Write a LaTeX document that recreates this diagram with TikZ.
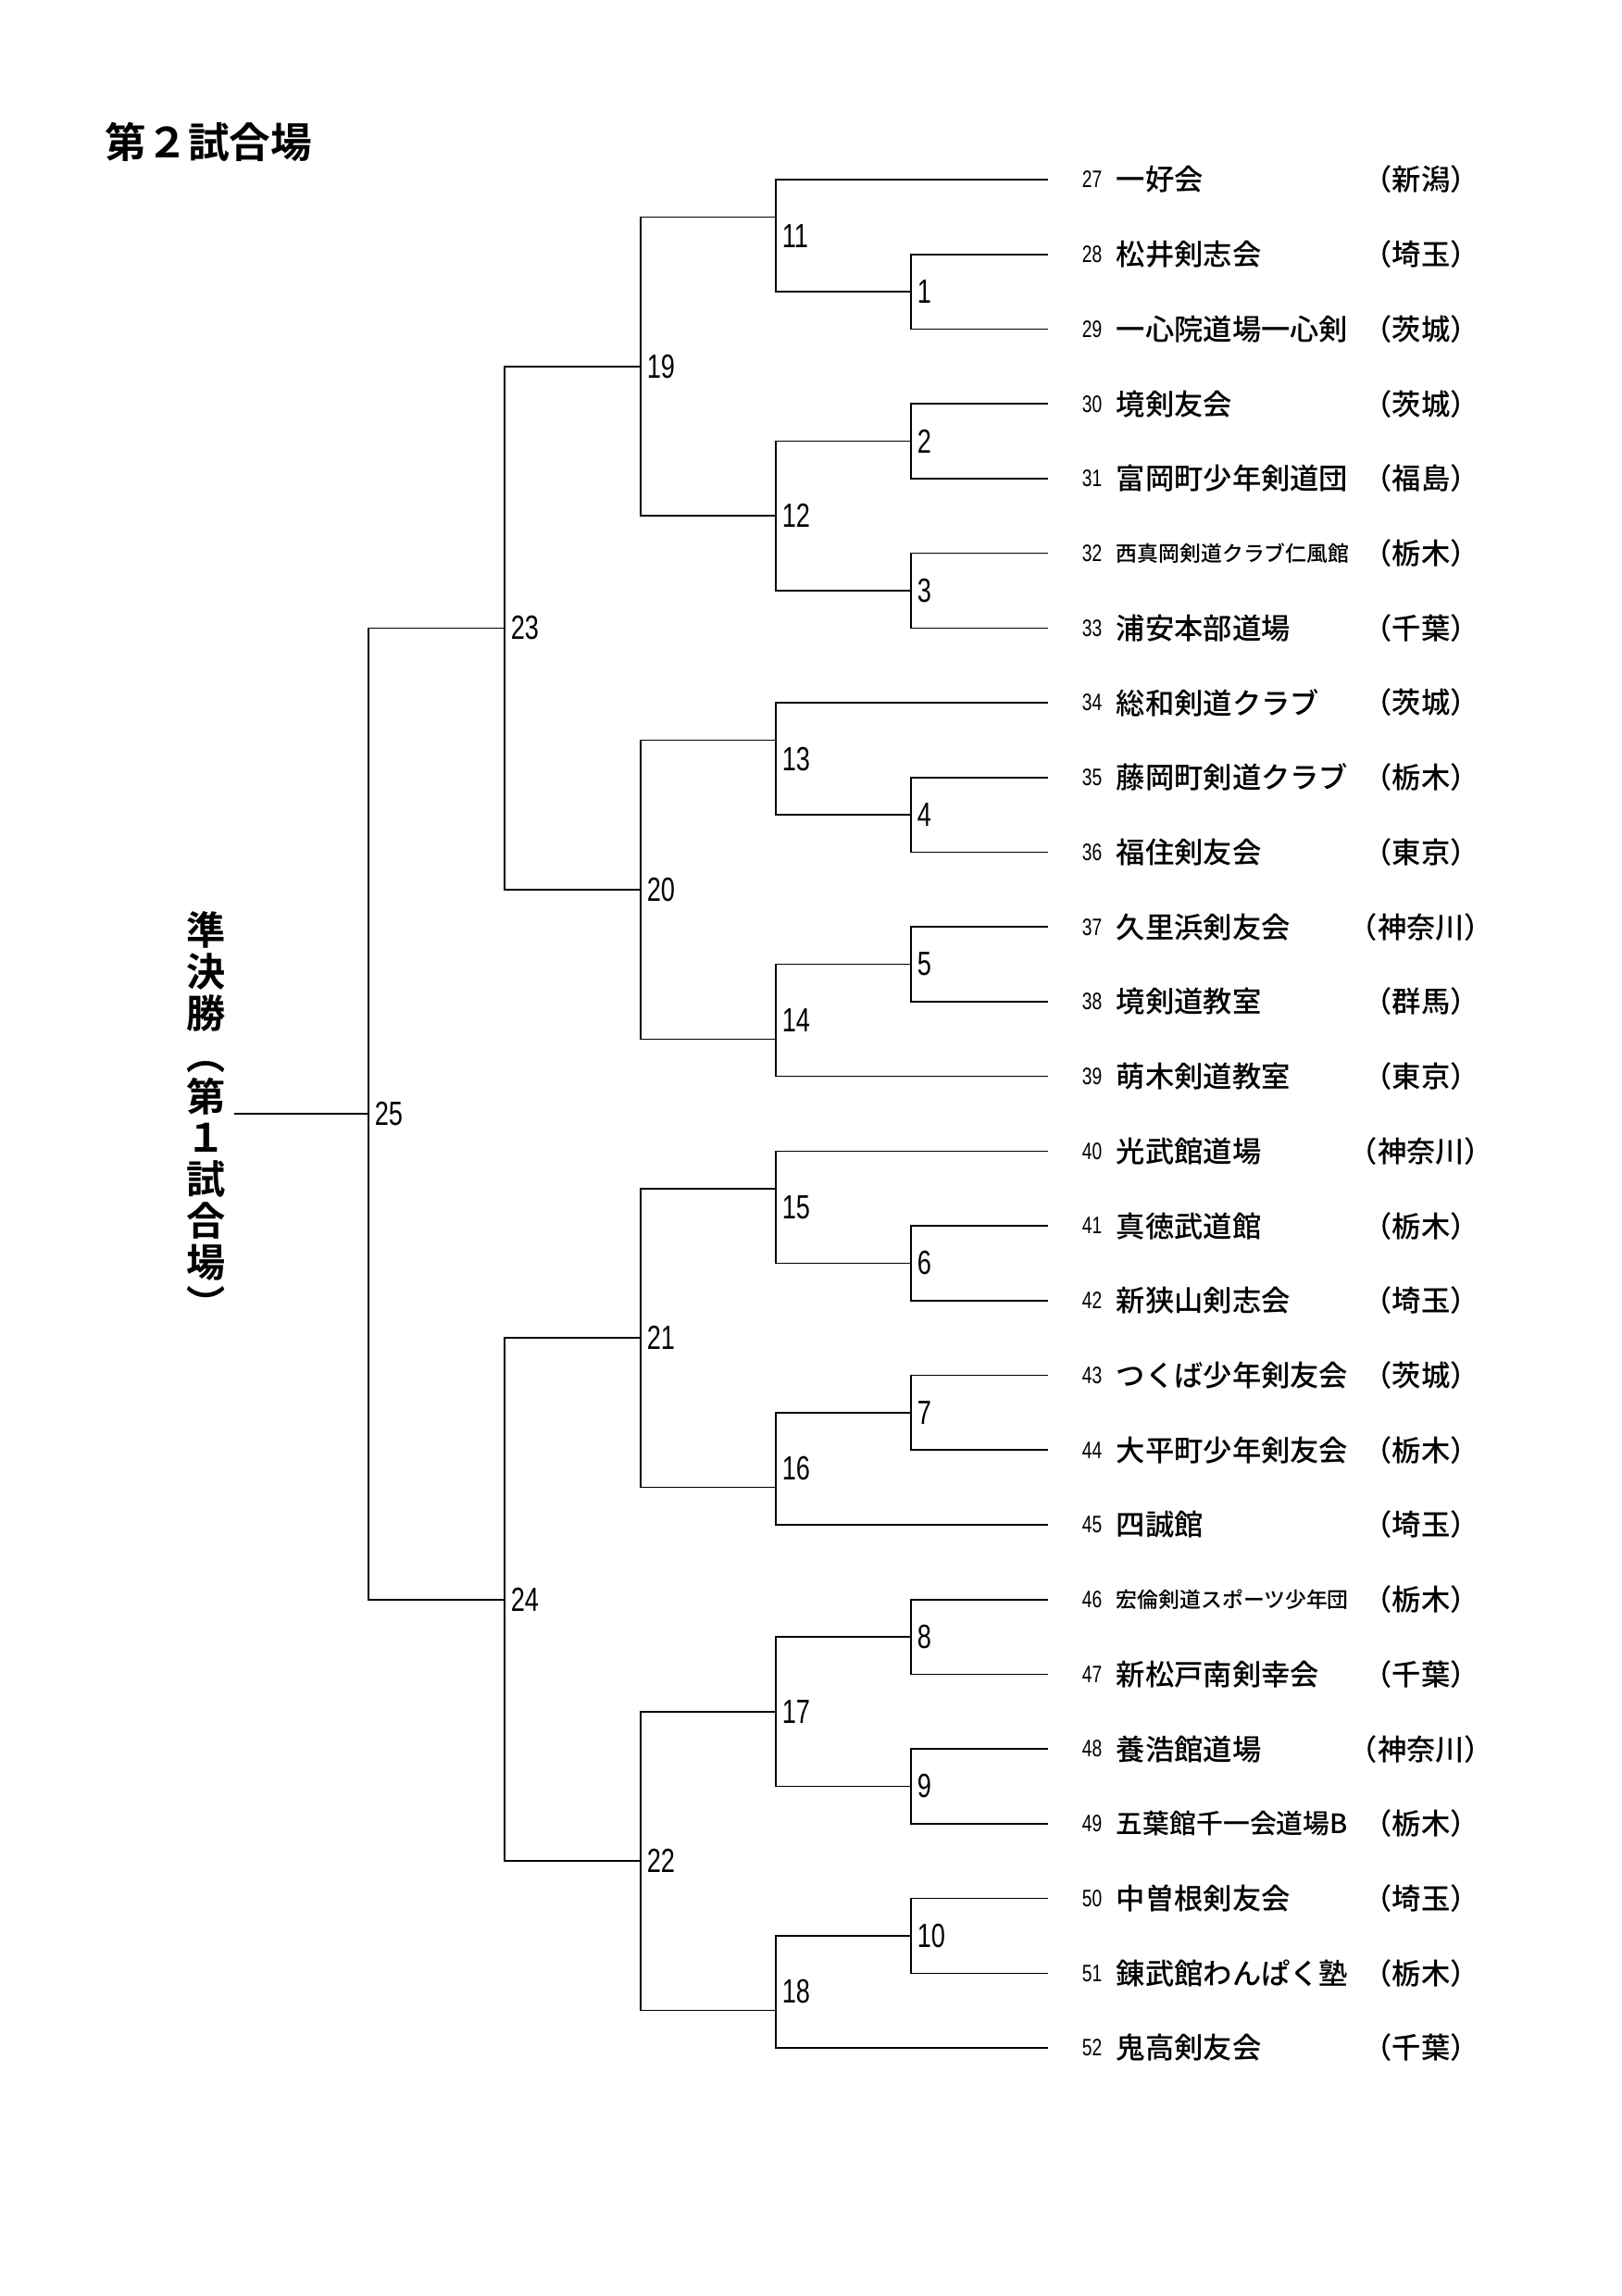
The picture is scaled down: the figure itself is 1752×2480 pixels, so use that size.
\documentclass[tikz,border=0pt]{standalone}
\usepackage{fontspec}
\setmainfont{Noto Sans CJK JP}[UprightFont={* Medium}, BoldFont={* Bold}]
\newfontfamily\numfont{Liberation Sans}[FakeStretch=0.75]
\usetikzlibrary{positioning}

\begin{document}
\begin{tikzpicture}[x=0.01cm, y=-0.01cm, line width=0.45pt]
  \tikzset{
    seed/.style={inner sep=0pt, anchor=west, font=\numfont\fontsize{7.3}{8}\selectfont},
    club/.style={inner sep=0pt, font=\fontsize{8.9}{10}\selectfont},
    tinyclub/.style={club, font=\fontsize{6.5}{7}\selectfont},
    narrowclub/.style={club, font=\fontsize{8.2}{9}\selectfont},
    pref/.style={inner sep=0pt, font=\fontsize{8.9}{10}\selectfont},
    bout/.style={inner sep=0pt, anchor=west, xshift=0.06cm, font=\numfont\fontsize{10.3}{11}\selectfont},
    heading/.style={inner sep=0pt, anchor=west, font=\bfseries\fontsize{12.7}{13}\selectfont},
    sidetitle/.style={inner sep=0pt, align=center, font=\bfseries\fontsize{12}{12.75}\selectfont}
  }
  \useasboundingbox (0,0) rectangle (1752,2480);

  \node[heading] (title) at (113,153) {第２試合場};
  \node[sidetitle] (semi) at (223,1207)
    {準\\決\\勝\\\rotatebox[origin=c]{-90}{（}\\第\\１\\試\\合\\場\\\rotatebox[origin=c]{-90}{）}};

  % teams
  \coordinate (e27) at (1132,194.0); \node[seed] (s27) at (1168,194.0) {27};
  \node[club, right=4pt of s27] (c27) {一好会}; \node[pref] (p27) at (1535,194.0) {（新潟）};
  \coordinate (e28) at (1132,274.7); \node[seed] (s28) at (1168,274.7) {28};
  \node[club, right=4pt of s28] (c28) {松井剣志会}; \node[pref] (p28) at (1535,274.7) {（埼玉）};
  \coordinate (e29) at (1132,355.4); \node[seed] (s29) at (1168,355.4) {29};
  \node[club, right=4pt of s29] (c29) {一心院道場一心剣}; \node[pref] (p29) at (1535,355.4) {（茨城）};
  \coordinate (e30) at (1132,436.2); \node[seed] (s30) at (1168,436.2) {30};
  \node[club, right=4pt of s30] (c30) {境剣友会}; \node[pref] (p30) at (1535,436.2) {（茨城）};
  \coordinate (e31) at (1132,516.9); \node[seed] (s31) at (1168,516.9) {31};
  \node[club, right=4pt of s31] (c31) {富岡町少年剣道団}; \node[pref] (p31) at (1535,516.9) {（福島）};
  \coordinate (e32) at (1132,597.6); \node[seed] (s32) at (1168,597.6) {32};
  \node[tinyclub, right=4pt of s32] (c32) {西真岡剣道クラブ仁風館}; \node[pref] (p32) at (1535,597.6) {（栃木）};
  \coordinate (e33) at (1132,678.3); \node[seed] (s33) at (1168,678.3) {33};
  \node[club, right=4pt of s33] (c33) {浦安本部道場}; \node[pref] (p33) at (1535,678.3) {（千葉）};
  \coordinate (e34) at (1132,759.0); \node[seed] (s34) at (1168,759.0) {34};
  \node[club, right=4pt of s34] (c34) {総和剣道クラブ}; \node[pref] (p34) at (1535,759.0) {（茨城）};
  \coordinate (e35) at (1132,839.8); \node[seed] (s35) at (1168,839.8) {35};
  \node[club, right=4pt of s35] (c35) {藤岡町剣道クラブ}; \node[pref] (p35) at (1535,839.8) {（栃木）};
  \coordinate (e36) at (1132,920.5); \node[seed] (s36) at (1168,920.5) {36};
  \node[club, right=4pt of s36] (c36) {福住剣友会}; \node[pref] (p36) at (1535,920.5) {（東京）};
  \coordinate (e37) at (1132,1001.2); \node[seed] (s37) at (1168,1001.2) {37};
  \node[club, right=4pt of s37] (c37) {久里浜剣友会}; \node[pref] (p37) at (1535,1001.2) {（神奈川）};
  \coordinate (e38) at (1132,1081.9); \node[seed] (s38) at (1168,1081.9) {38};
  \node[club, right=4pt of s38] (c38) {境剣道教室}; \node[pref] (p38) at (1535,1081.9) {（群馬）};
  \coordinate (e39) at (1132,1162.6); \node[seed] (s39) at (1168,1162.6) {39};
  \node[club, right=4pt of s39] (c39) {萌木剣道教室}; \node[pref] (p39) at (1535,1162.6) {（東京）};
  \coordinate (e40) at (1132,1243.4); \node[seed] (s40) at (1168,1243.4) {40};
  \node[club, right=4pt of s40] (c40) {光武館道場}; \node[pref] (p40) at (1535,1243.4) {（神奈川）};
  \coordinate (e41) at (1132,1324.1); \node[seed] (s41) at (1168,1324.1) {41};
  \node[club, right=4pt of s41] (c41) {真徳武道館}; \node[pref] (p41) at (1535,1324.1) {（栃木）};
  \coordinate (e42) at (1132,1404.8); \node[seed] (s42) at (1168,1404.8) {42};
  \node[club, right=4pt of s42] (c42) {新狭山剣志会}; \node[pref] (p42) at (1535,1404.8) {（埼玉）};
  \coordinate (e43) at (1132,1485.5); \node[seed] (s43) at (1168,1485.5) {43};
  \node[club, right=4pt of s43] (c43) {つくば少年剣友会}; \node[pref] (p43) at (1535,1485.5) {（茨城）};
  \coordinate (e44) at (1132,1566.2); \node[seed] (s44) at (1168,1566.2) {44};
  \node[club, right=4pt of s44] (c44) {大平町少年剣友会}; \node[pref] (p44) at (1535,1566.2) {（栃木）};
  \coordinate (e45) at (1132,1647.0); \node[seed] (s45) at (1168,1647.0) {45};
  \node[club, right=4pt of s45] (c45) {四誠館}; \node[pref] (p45) at (1535,1647.0) {（埼玉）};
  \coordinate (e46) at (1132,1727.7); \node[seed] (s46) at (1168,1727.7) {46};
  \node[tinyclub, right=4pt of s46] (c46) {宏倫剣道スポーツ少年団}; \node[pref] (p46) at (1535,1727.7) {（栃木）};
  \coordinate (e47) at (1132,1808.4); \node[seed] (s47) at (1168,1808.4) {47};
  \node[club, right=4pt of s47] (c47) {新松戸南剣幸会}; \node[pref] (p47) at (1535,1808.4) {（千葉）};
  \coordinate (e48) at (1132,1889.1); \node[seed] (s48) at (1168,1889.1) {48};
  \node[club, right=4pt of s48] (c48) {養浩館道場}; \node[pref] (p48) at (1535,1889.1) {（神奈川）};
  \coordinate (e49) at (1132,1969.8); \node[seed] (s49) at (1168,1969.8) {49};
  \node[narrowclub, right=4pt of s49] (c49) {五葉館千一会道場B}; \node[pref] (p49) at (1535,1969.8) {（栃木）};
  \coordinate (e50) at (1132,2050.6); \node[seed] (s50) at (1168,2050.6) {50};
  \node[club, right=4pt of s50] (c50) {中曽根剣友会}; \node[pref] (p50) at (1535,2050.6) {（埼玉）};
  \coordinate (e51) at (1132,2131.3); \node[seed] (s51) at (1168,2131.3) {51};
  \node[club, right=4pt of s51] (c51) {錬武館わんぱく塾}; \node[pref] (p51) at (1535,2131.3) {（栃木）};
  \coordinate (e52) at (1132,2212.0); \node[seed] (s52) at (1168,2212.0) {52};
  \node[club, right=4pt of s52] (c52) {鬼高剣友会}; \node[pref] (p52) at (1535,2212.0) {（千葉）};

  % bouts
  \coordinate (j1) at (984,315.1);
  \coordinate (j2) at (984,476.5);
  \coordinate (j3) at (984,638.0);
  \coordinate (j4) at (984,880.1);
  \coordinate (j5) at (984,1041.6);
  \coordinate (j6) at (984,1364.4);
  \coordinate (j7) at (984,1525.9);
  \coordinate (j8) at (984,1768.0);
  \coordinate (j9) at (984,1929.5);
  \coordinate (j10) at (984,2090.9);
  \coordinate (j11) at (838,234.4);
  \coordinate (j12) at (838,557.2);
  \coordinate (j13) at (838,799.4);
  \coordinate (j14) at (838,1122.3);
  \coordinate (j15) at (838,1283.7);
  \coordinate (j16) at (838,1606.6);
  \coordinate (j17) at (838,1848.8);
  \coordinate (j18) at (838,2171.6);
  \coordinate (j19) at (692,395.8);
  \coordinate (j20) at (692,960.8);
  \coordinate (j21) at (692,1445.2);
  \coordinate (j22) at (692,2010.2);
  \coordinate (j23) at (545,678.3);
  \coordinate (j24) at (545,1727.7);
  \coordinate (j25) at (398,1203.0);
  \coordinate (entry) at (253,1203.0);

  \node[bout] (b1) at (j1) {1};
  \node[bout] (b2) at (j2) {2};
  \node[bout] (b3) at (j3) {3};
  \node[bout] (b4) at (j4) {4};
  \node[bout] (b5) at (j5) {5};
  \node[bout] (b6) at (j6) {6};
  \node[bout] (b7) at (j7) {7};
  \node[bout] (b8) at (j8) {8};
  \node[bout] (b9) at (j9) {9};
  \node[bout] (b10) at (j10) {10};
  \node[bout] (b11) at (838,254.6) {11};
  \node[bout] (b12) at (j12) {12};
  \node[bout] (b13) at (838,819.6) {13};
  \node[bout] (b14) at (838,1102.1) {14};
  \node[bout] (b15) at (838,1303.9) {15};
  \node[bout] (b16) at (838,1586.4) {16};
  \node[bout] (b17) at (j17) {17};
  \node[bout] (b18) at (838,2151.5) {18};
  \node[bout] (b19) at (j19) {19};
  \node[bout] (b20) at (j20) {20};
  \node[bout] (b21) at (j21) {21};
  \node[bout] (b22) at (j22) {22};
  \node[bout] (b23) at (j23) {23};
  \node[bout] (b24) at (j24) {24};
  \node[bout] (b25) at (j25) {25};

  % lines
  \draw (e28) -| (j1) |- (e29);
  \draw (e30) -| (j2) |- (e31);
  \draw (e32) -| (j3) |- (e33);
  \draw (e35) -| (j4) |- (e36);
  \draw (e37) -| (j5) |- (e38);
  \draw (e41) -| (j6) |- (e42);
  \draw (e43) -| (j7) |- (e44);
  \draw (e46) -| (j8) |- (e47);
  \draw (e48) -| (j9) |- (e49);
  \draw (e50) -| (j10) |- (e51);
  \draw (e27) -| (j11) |- (j1);
  \draw (j2) -| (j12) |- (j3);
  \draw (e34) -| (j13) |- (j4);
  \draw (j5) -| (j14) |- (e39);
  \draw (e40) -| (j15) |- (j6);
  \draw (j7) -| (j16) |- (e45);
  \draw (j8) -| (j17) |- (j9);
  \draw (j10) -| (j18) |- (e52);
  \draw (j11) -| (j19) |- (j12);
  \draw (j13) -| (j20) |- (j14);
  \draw (j15) -| (j21) |- (j16);
  \draw (j17) -| (j22) |- (j18);
  \draw (j19) -| (j23) |- (j20);
  \draw (j21) -| (j24) |- (j22);
  \draw (j23) -| (j25) |- (j24);
  \draw (entry) -- (j25);
\end{tikzpicture}
\end{document}
